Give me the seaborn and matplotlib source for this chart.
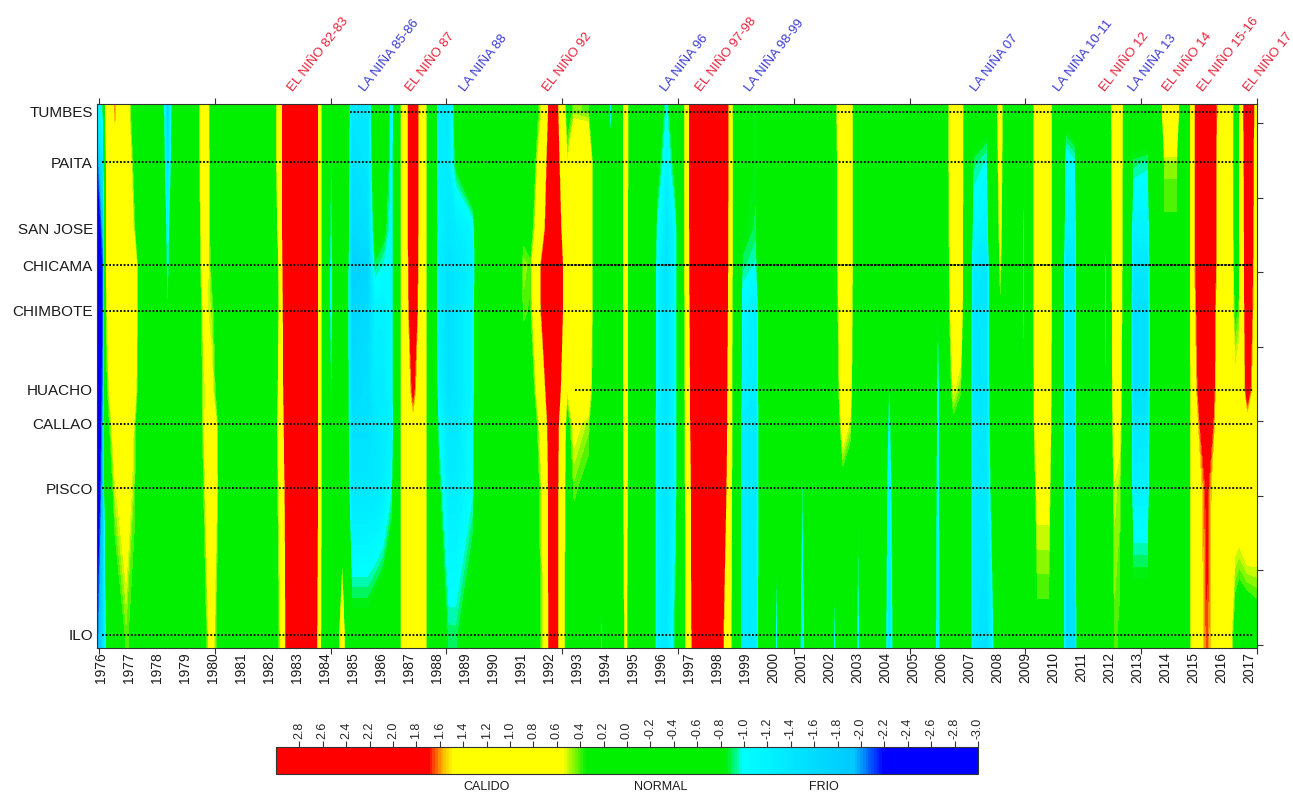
import numpy as np
import matplotlib
matplotlib.use("Agg")
import matplotlib.pyplot as plt
import matplotlib.colors as mcolors
import matplotlib.transforms as mtransforms
import seaborn as sns

# ==========================================
# DATOS: anomalias de TSM por estacion costera (lectura del grafico)
# ==========================================
stations = ["TUMBES", "PAITA", "SAN JOSE", "CHICAMA", "CHIMBOTE",
            "HUACHO", "CALLAO", "PISCO", "ILO"]
station_lat = [3.70, 5.05, 6.82, 7.81, 9.04, 11.16, 12.07, 13.79, 17.73]

years = [
    1975.86, 1976.08, 1976.2, 1976.5, 1976.9, 1977.2, 1977.4, 1978.1, 1978.38, 1978.7,
    1979.45, 1979.68, 1979.95, 1980.3, 1980.8, 1980.9, 1981.0, 1982.0, 1982.2, 1982.45,
    1982.7, 1983.6, 1983.85, 1984.0, 1984.22, 1984.45, 1984.62, 1984.75, 1984.95, 1985.55,
    1985.8, 1986.1, 1986.4, 1986.62, 1986.85, 1987.15, 1987.45, 1987.68, 1987.85, 1988.05,
    1988.4, 1988.7, 1989.3, 1989.55, 1990.8, 1991.1, 1991.35, 1991.5, 1991.8, 1992.15,
    1992.45, 1992.65, 1992.9, 1993.4, 1993.65, 1993.9, 1994.05, 1994.2, 1994.32, 1994.6,
    1994.74, 1994.88, 1995.6, 1995.85, 1996.2, 1996.55, 1996.8, 1997.0, 1997.2, 1998.2,
    1998.45, 1998.6, 1998.75, 1998.9, 1999.4, 1999.7, 2000.0, 2000.12, 2000.25, 2000.85,
    2001.05, 2001.25, 2002.1, 2002.2, 2002.3, 2002.5, 2002.75, 2002.9, 2003.04, 2003.2,
    2003.85, 2004.15, 2004.5, 2005.65, 2005.9, 2006.1, 2006.2, 2006.45, 2006.7, 2006.85,
    2006.95, 2007.15, 2007.65, 2007.85, 2008.0, 2008.12, 2008.25, 2008.85, 2008.95, 2009.05,
    2009.25, 2009.45, 2009.85, 2010.0, 2010.25, 2010.45, 2010.8, 2010.95, 2011.75, 2011.87,
    2011.98, 2012.05, 2012.2, 2012.38, 2012.55, 2012.7, 2012.85, 2013.4, 2013.6, 2013.85,
    2014.0, 2014.4, 2014.55, 2014.9, 2015.05, 2015.5, 2015.9, 2016.3, 2016.5, 2016.65,
    2016.95, 2017.3,
]

tumbes = [
    -1.3, -0.9, 0.8, 1.58, 0.8, 0.0, 0, 0, -1.8, 0,
    0, 1.2, 0.0, 0, 0, -0.9, 0, 0, 0, 1.4,
    2.8, 2.8, 0.5, 0, -0.6, 0, 0, -0.3, -1.4, -1.4,
    -0.3, -0.4, -1.2, 0, 1.0, 2.4, 1.0, 0.2, 0, -1.3,
    -1.4, -0.7, 0.0, 0, 0, 0, 0, 0.2, 0.6, 2.5,
    0.9, 0.2, 0.45, 0.4, 0, 0, 0, -1.3, 0, 0,
    1.0, 0, 0, -0.5, -1.05, -0.5, 0.1, 1.5, 2.8, 2.8,
    1.3, 0, 0, -0.6, -0.9, 0, 0, 0, 0, 0,
    0, 0, 0, 0, 0.5, 1.2, 1.0, 0, -0.6, 0,
    0, 0, 0, 0, 0, 0, 0, 1.2, 1.0, 0,
    0, -0.6, -0.7, 0, 0.3, 0.9, 0, 0, 0, 0,
    0, 1.2, 1.1, 0, 0, -0.7, -0.6, 0, 0, 0,
    0, 0, 1.2, 1.1, 0, 0, -0.5, -0.5, 0, 0,
    1.1, 1.1, 0, 0.3, 1.5, 2.8, 1.4, 1.0, 0.1, 0.3,
    2.6, 1.0,
]
paita = [
    -2.2, -1.4, 0.7, 1.3, 1.0, 0.2, 0, 0, -1.6, 0,
    0, 1.1, 0.1, 0, 0, -0.7, 0, 0, 0, 1.4,
    2.8, 2.8, 0.5, 0, -1.0, 0, 0, -0.3, -1.5, -1.4,
    -0.5, -0.6, -1.1, 0, 1.0, 2.4, 1.0, 0.2, 0, -1.3,
    -1.3, -0.8, -0.3, 0, 0, 0.1, 0.1, 0.3, 1.0, 2.6,
    1.2, 0.5, 1.0, 1.0, 0, 0, 0, -0.6, 0, 0,
    1.0, 0, 0, -0.7, -1.2, -0.7, 0.1, 1.5, 2.8, 2.8,
    1.3, 0, 0, -0.7, -0.85, 0, 0, 0, 0, 0,
    0, 0, 0, 0, 0.4, 1.2, 1.0, 0, -0.85, 0,
    0, 0, 0, 0, 0, 0, 0, 1.2, 1.0, 0,
    0, -0.9, -1.0, 0, 0.2, 0.8, 0, 0, -0.8, 0,
    0, 1.2, 1.1, 0, 0, -1.1, -1.0, 0, 0, -0.5,
    0, 0, 1.1, 1.0, 0, 0, -0.9, -0.95, 0, 0,
    0.45, 0.45, 0, 0.3, 1.5, 2.8, 1.3, 1.0, 0.1, 0.3,
    2.5, 1.0,
]
san_jose = [
    -2.6, -1.9, 0.6, 1.1, 1.1, 0.4, 0, 0, -1.2, 0,
    0, 0.9, 0.2, 0, 0, -0.5, 0, 0, -0.3, 1.4,
    2.8, 2.8, 0.5, 0, -1.1, 0, 0, -0.3, -1.6, -1.5,
    -0.7, -0.8, -1.1, 0, 1.0, 2.4, 1.0, 0.2, 0, -1.2,
    -1.4, -1.3, -1.1, 0, 0, 0.3, 0.2, 0.5, 1.3, 2.8,
    1.5, 0.6, 1.1, 1.0, 0, 0, 0, -0.3, 0, 0,
    0.9, 0, 0, -1.0, -1.4, -1.0, 0.1, 1.4, 2.8, 2.8,
    1.2, 0, 0, -0.8, -0.9, 0, 0, 0, 0, 0,
    0, 0, 0, 0, 0.4, 1.1, 1.0, 0, -0.85, 0,
    0, 0, 0, 0, 0, 0, 0, 1.1, 0.9, 0,
    0, -1.1, -1.2, 0, 0.1, 0.6, 0, 0, -1.2, 0,
    0, 1.2, 1.1, 0, 0, -1.2, -1.2, 0, 0, -0.9,
    0, 0, 1.0, 0.9, 0, 0, -1.2, -1.2, 0, 0,
    0.35, 0.35, 0, 0.3, 1.5, 2.8, 1.3, 1.0, 0.1, 0.3,
    2.4, 1.0,
]
chicama = [
    -2.8, -2.1, 0.55, 1.0, 1.1, 0.8, 0, 0, -1.1, 0,
    0, 0.8, 0.3, 0, 0, -0.3, 0, 0, -0.95, 1.3,
    2.8, 2.8, 0.5, 0, -1.2, 0, 0, -0.4, -1.8, -1.7,
    -0.9, -1.0, -1.1, 0, 1.0, 2.3, 1.0, 0.2, 0, -1.3,
    -1.5, -1.4, -1.2, 0, 0, 0.45, 0.4, 0.8, 1.9, 3.0,
    1.8, 0.6, 1.1, 1.0, 0, 0, 0, 0, 0, 0,
    0.9, 0, 0, -1.1, -1.5, -1.0, 0.1, 1.4, 2.8, 2.8,
    1.2, 0, 0, -0.9, -1.0, 0, 0, 0, 0, 0,
    0, 0, 0, 0, 0.4, 1.1, 1.0, 0, -0.9, 0,
    0, -0.3, 0, 0, -0.4, 0, 0, 1.0, 0.9, 0,
    0, -1.3, -1.4, -0.2, 0, 0.5, 0, 0, -1.4, 0,
    0, 1.2, 1.1, 0, 0, -1.4, -1.3, 0, 0, -1.3,
    0, 0, 1.0, 0.9, 0, 0, -1.4, -1.4, 0, 0,
    0.3, 0.3, 0, 0.3, 1.5, 2.8, 1.3, 1.0, 0.2, 0.3,
    2.3, 1.0,
]
chimbote = [
    -2.8, -2.1, 0.45, 1.0, 1.1, 0.8, 0, 0, -0.9, 0,
    0, 0.6, 0.45, 0, 0, -0.2, 0, 0, -0.9, 1.2,
    2.8, 2.8, 0.5, 0, -1.2, 0, 0, -0.5, -1.7, -1.6,
    -1.2, -1.2, -1.1, 0, 1.0, 2.2, 1.0, 0.2, 0, -1.3,
    -1.5, -1.4, -1.1, 0, 0, 0.4, 0.35, 0.7, 1.9, 3.0,
    1.8, 0.6, 1.1, 1.0, 0, 0, 0, 0, 0, 0,
    0.9, 0, 0, -1.1, -1.5, -1.0, 0.1, 1.3, 2.8, 2.7,
    1.1, 0, 0, -1.1, -1.3, 0, 0, 0, 0, 0,
    0, 0, 0, 0, 0.3, 1.0, 0.9, 0, -0.9, 0,
    0, -0.6, 0, 0, -0.95, 0, 0, 0.9, 0.8, 0,
    0, -1.4, -1.4, -0.3, 0, 0.3, 0, 0, -1.2, 0,
    0, 1.2, 1.1, 0, 0, -1.4, -1.3, 0, 0, -1.3,
    0, 0, 0.9, 0.8, 0, 0, -1.5, -1.5, 0, 0,
    0.15, 0.15, 0, 0.3, 1.4, 2.7, 1.2, 0.9, 0.3, 0.4,
    2.2, 1.0,
]
huacho = [
    -2.8, -2.0, 0.3, 1.0, 1.0, 0.7, 0, 0, -0.6, 0,
    0, 0.5, 0.6, 0, 0, 0, 0, 0, -0.3, 1.1,
    2.7, 2.8, 0.5, 0, -1.0, 0, 0, -0.5, -1.6, -1.5,
    -1.3, -1.3, -1.1, 0, 1.0, 1.75, 1.0, 0.2, 0, -1.2,
    -1.5, -1.4, -1.1, 0, 0, 0.2, 0.1, 0.4, 1.2, 2.8,
    1.4, 0.5, 0.9, 0.8, 0, 0, 0, 0, 0, 0,
    0.9, 0, 0, -1.1, -1.5, -1.0, 0.1, 1.2, 2.7, 2.6,
    1.0, 0, 0, -1.2, -1.3, 0, 0, 0, 0, 0,
    -0.3, 0, 0, 0, 0.2, 0.9, 0.7, 0, -0.9, 0,
    0, -0.95, 0, 0, -1.2, 0, 0, 0.55, 0.4, 0,
    0, -1.4, -1.4, -0.4, 0, 0.1, 0, 0, -0.9, 0,
    0, 1.1, 1.0, 0, 0, -1.4, -1.3, 0, 0, -1.1,
    0, 0, 0.8, 0.7, 0, 0, -1.5, -1.5, 0, 0,
    0, 0, 0, 0.3, 1.3, 2.5, 1.2, 0.9, 0.6, 0.7,
    1.9, 1.0,
]
callao = [
    -2.8, -1.9, 0.2, 0.7, 1.0, 0.45, 0, 0, -0.5, 0,
    0, 0.5, 1.0, 0, 0, 0, 0, 0, 0, 1.0,
    2.6, 2.8, 0.5, 0, -0.9, 0, 0, -0.5, -1.5, -1.5,
    -1.4, -1.3, -1.2, 0, 1.0, 1.4, 1.0, 0.2, 0, -1.0,
    -1.4, -1.4, -1.0, 0, 0, 0, 0, 0.2, 0.8, 2.6,
    1.0, 0.2, 0.6, 0.45, 0, 0, 0, 0, 0, 0,
    0.9, 0, 0, -1.2, -1.5, -1.0, 0.1, 1.1, 2.6, 2.5,
    1.0, 0, 0, -1.3, -1.4, 0, 0, -0.3, 0, 0,
    -0.6, 0, 0, 0, 0.1, 0.7, 0.5, 0, -0.9, 0,
    0, -1.1, 0, 0, -1.2, 0, 0, 0.3, 0.2, 0,
    0, -1.4, -1.4, -0.5, 0, 0, 0, 0, -0.4, 0,
    0, 1.0, 0.9, 0, 0, -1.4, -1.4, 0, 0, -0.8,
    0, 0, 0.7, 0.6, 0, 0, -1.4, -1.4, 0, 0,
    0, 0, 0, 0.3, 1.2, 2.2, 1.2, 0.9, 0.8, 0.9,
    1.3, 1.0,
]
pisco = [
    -2.7, -1.8, 0.0, 0.5, 0.75, 0.4, 0, 0, -0.4, 0,
    0, 0.4, 1.1, 0, 0, 0, 0, 0, 0, 0.8,
    2.4, 2.8, 0.5, 0, -0.3, 0, -0.4, -0.4, -1.4, -1.4,
    -1.4, -1.3, -1.0, 0, 1.0, 1.2, 1.0, 0.2, 0, -0.8,
    -1.3, -1.3, -1.0, 0, 0, 0, 0, 0.1, 0.6, 2.5,
    0.9, 0.1, 0.4, 0.3, 0, -0.4, 0, 0, 0, 0,
    0.8, 0, 0, -1.2, -1.5, -1.0, 0.1, 1.0, 2.4, 2.3,
    0.9, 0, 0, -1.3, -1.4, 0, 0, -0.8, 0, 0,
    -1.0, 0, 0, -0.6, 0, 0.2, 0.1, 0, -1.0, 0,
    0, -1.3, 0, 0, -1.3, 0, 0, 0, 0, 0,
    0, -1.4, -1.4, -0.7, 0, 0, 0, 0, 0, 0,
    0, 0.6, 0.6, 0, 0, -1.5, -1.4, 0, 0, -0.4,
    0, 0, 0.5, 0.45, 0, 0, -1.2, -1.2, 0, 0,
    0, 0, 0, 0.3, 1.2, 1.72, 1.2, 0.9, 0.8, 0.8,
    1.0, 0.9,
]
ilo = [
    -2.2, -1.5, -0.9, 0.1, 0.4, 0.3, 0, 0, -0.3, 0,
    0, 0.2, 0.7, 0, 0, 0, 0, 0, 0, 0.6,
    2.2, 2.6, 0.4, 0, 0.0, 0, 1.0, 0.0, -0.7, -0.7,
    -0.6, -0.5, -0.4, 0, 1.0, 1.1, 1.0, 0.2, 0, -0.6,
    -0.9, -0.9, -0.6, 0, 0, 0, 0, 0.1, 0.5, 2.5,
    0.9, 0.0, 0.1, 0.0, 0, -1.1, 0, 0, 0, 0,
    0.6, 0, 0, -1.2, -1.4, -0.8, 0.1, 0.9, 2.2, 1.7,
    0.7, 0, 0, -1.3, -1.3, 0, 0, -1.3, 0, 0,
    -1.5, 0, 0, -1.2, 0, 0, 0, 0, -1.3, 0,
    0, -1.5, 0, 0, -1.4, 0, 0, 0, 0, 0,
    0, -1.4, -1.5, -1.1, -0.4, 0, 0, 0, 0, 0,
    0, 0.3, 0.3, 0, 0, -1.5, -1.5, 0, 0, 0,
    0, 0, 0.4, 0.35, 0, 0, -0.6, -0.6, 0, 0,
    0, 0, 0, 0.3, 1.1, 1.66, 1.2, 0.7, 0.2, 0.1,
    0.1, 0.2,
]

# periodo con registro (lineas punteadas)
line_start = [1984.89, 1976.04, np.nan, 1976.04, 1976.04, 1992.93, 1976.04, 1976.04, 1976.04]
line_end = 2017.14
chicama_extra_start = 1990.96

year_labels = list(range(1976, 2018))

event_labels = ["EL NIÑO 82-83", "LA NIÑA 85-86", "EL NIÑO 87", "LA NIÑA 88", "EL NIÑO 92",
                "LA NIÑA 96", "EL NIÑO 97-98", "LA NIÑA 98-99", "LA NIÑA 07", "LA NIÑA 10-11",
                "EL NIÑO 12", "LA NIÑA 13", "EL NIÑO 14", "EL NIÑO 15-16", "EL NIÑO 17"]
event_years = [1982.85, 1985.42, 1987.06, 1988.99, 1991.96,
               1996.17, 1997.42, 1999.17, 2007.24, 2010.21,
               2011.85, 2012.89, 2014.1, 2015.35, 2016.99]

cbar_ticks = [2.8, 2.6, 2.4, 2.2, 2.0, 1.8, 1.6, 1.4, 1.2, 1.0, 0.8, 0.6, 0.4, 0.2, 0.0,
              -0.2, -0.4, -0.6, -0.8, -1.0, -1.2, -1.4, -1.6, -1.8, -2.0, -2.2, -2.4,
              -2.6, -2.8, -3.0]
cbar_words = ["CALIDO", "NORMAL", "FRIO"]
cbar_word_pos = [1.2, -0.29, -1.68]

# paleta: valor -> color
cmap_values = [-3.0, -2.2, -1.95, -1.0, -0.85, 0.35, 0.55, 1.5, 1.6, 1.7, 3.0]
cmap_colors = ["#0000ff", "#0000ff", "#00c8ff", "#00ffff", "#00f000", "#00f000",
               "#ffff00", "#ffff00", "#ffa000", "#ff0000", "#ff0000"]

# ==========================================
# FIGURA
# ==========================================
sns.set_theme(style="white")
plt.rcParams["font.family"] = ["Liberation Sans", "DejaVu Sans"]

cmap = mcolors.LinearSegmentedColormap.from_list(
    "sst", [((v + 3.0) / 6.0, c) for v, c in zip(cmap_values, cmap_colors)])
norm = mcolors.Normalize(vmin=-3.0, vmax=3.0)

fig = plt.figure(figsize=(12.93, 7.94), dpi=100)
ax = fig.add_axes([97 / 1293, 146 / 794, 1160 / 1293, 544 / 794])

series = [tumbes, paita, san_jose, chicama, chimbote, huacho, callao, pisco, ilo]
for s in series:
    assert len(s) == len(years)
z = np.array(series, dtype=float)
z = np.vstack([z[:1], z, z[-1:]])
lat_grid = np.concatenate([[3.49], station_lat, [18.08]])
X, Y = np.meshgrid(years, lat_grid)

levels = np.arange(-3.025, 3.03, 0.05)
ax.contourf(X, Y, z, levels=levels, cmap=cmap, norm=norm, extend="both", antialiased=False)

# lineas punteadas de cada estacion
for lat, start in zip(station_lat, line_start):
    if np.isnan(start):
        continue
    ax.plot([start, line_end], [lat, lat], color="black", lw=1.3, ls=(0, (1, 1)))
ax.plot([chicama_extra_start, line_end], [station_lat[3], station_lat[3]],
        color="black", lw=1.3, ls=(0, (1, 1)))

ax.set_xlim(1975.86, 2017.29)
ax.set_ylim(18.08, 3.49)

ax.set_xticks(year_labels)
ax.set_xticklabels([str(y) for y in year_labels], rotation=90, fontsize=10, color="#1a1a1a")
ax.set_yticks(station_lat)
ax.set_yticklabels(stations, fontsize=11, color="#1a1a1a")
ax.set_xticks(np.linspace(1975.93, 2017.29, 11), minor=True)
ax.set_yticks(np.arange(4, 19, 2), minor=True)
ax.tick_params(axis="both", which="major", length=0, pad=3)
ax.tick_params(axis="x", which="minor", bottom=True, top=True, length=4, width=0.8, color="#333333")
ax.tick_params(axis="y", which="minor", left=False, right=True, length=4, width=0.8, color="#333333")
for sp in ax.spines.values():
    sp.set_linewidth(0.8)
    sp.set_color("#333333")

# etiquetas de eventos
for lab, yr in zip(event_labels, event_years):
    col = "#e8233a" if lab.startswith("EL") else "#3b3bd6"
    ax.annotate(lab, xy=(yr, 1.0), xycoords=("data", "axes fraction"),
                xytext=(0, 9), textcoords="offset points",
                rotation=52, rotation_mode="anchor", ha="left", va="baseline",
                fontsize=9.5, color=col, annotation_clip=False)

# barra de colores
cax = fig.add_axes([276 / 1293, 20 / 794, 702 / 1293, 27 / 794])
sm = plt.cm.ScalarMappable(norm=norm, cmap=cmap)
cb = fig.colorbar(sm, cax=cax, orientation="horizontal")
cb.set_ticks(cbar_ticks)
cb.set_ticklabels([f"{v:.1f}" for v in cbar_ticks])
cax.invert_xaxis()
cax.xaxis.set_ticks_position("top")
cax.tick_params(axis="x", which="major", top=True, bottom=False, length=4, width=0.8,
                labelsize=9, labelrotation=90, pad=2, color="#333333")
cb.outline.set_linewidth(0.8)
cb.outline.set_edgecolor("#333333")

trans = mtransforms.blended_transform_factory(cax.transData, cax.transAxes)
for word, pos in zip(cbar_words, cbar_word_pos):
    cax.text(pos, -0.48, word, transform=trans, ha="center", va="center", fontsize=9, color="#1a1a1a")

fig.savefig("out.png", dpi=100)
